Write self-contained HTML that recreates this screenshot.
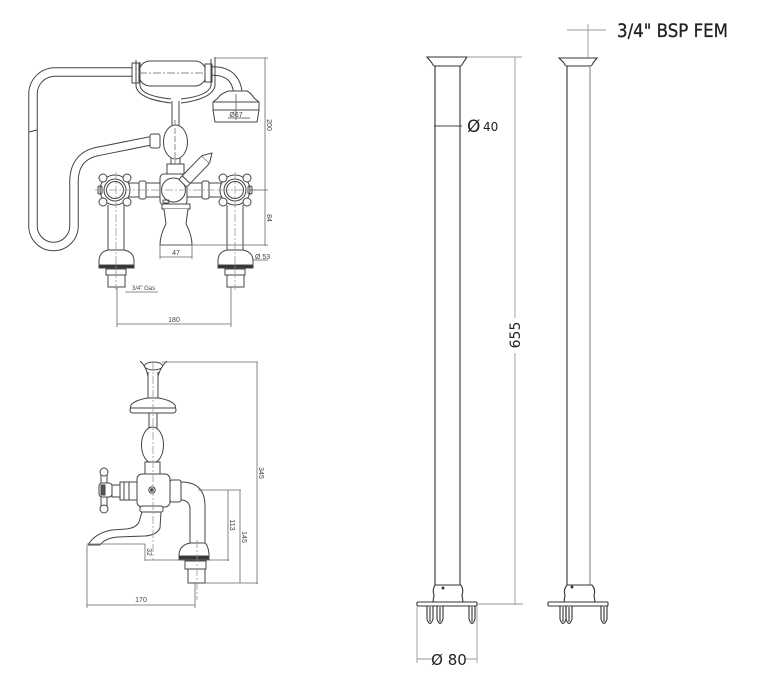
<!DOCTYPE html>
<html><head><meta charset="utf-8"><style>
html,body{margin:0;padding:0;background:#fff;}
svg{display:block;}
text{font-family:"Liberation Sans",sans-serif;}
.dv{font-family:"DejaVu Sans","Liberation Sans",sans-serif;}
</style></head><body>
<svg width="763" height="676" viewBox="0 0 763 676" xmlns="http://www.w3.org/2000/svg">
<rect width="763" height="676" fill="#fff"/>

<!-- ============ TOP LEFT DRAWING ============ -->
<g fill="none" stroke="#444" stroke-width="1">
  <path d="M135,72 H55 A22,22 0 0 0 33,94 V226 A20.5,20.5 0 0 0 74,226 V182 Q74,155 100,151 L150,141" stroke="#444" stroke-width="9.5"/>
  <path d="M135,72 H55 A22,22 0 0 0 33,94 V226 A20.5,20.5 0 0 0 74,226 V182 Q74,155 100,151 L150,141" stroke="#fff" stroke-width="7.5"/>
  <path d="M29,132 L37,130"/>
  <path d="M211,71 Q236,70 238,94" stroke="#444" stroke-width="9.5"/>
  <path d="M211,71 Q236,70 238,94" stroke="#fff" stroke-width="7.5"/>

  <rect x="132" y="63" width="7" height="20" fill="#fff"/>
  <rect x="139" y="61" width="67" height="25" rx="11" fill="#fff"/>
  <line x1="139" y1="73" x2="206" y2="73" stroke="#888" stroke-dasharray="8,2,2,2"/>
  <rect x="205" y="64" width="7" height="18" fill="#fff"/>
  <path d="M136,60 V86 Q138,99 171,103"/>
  <path d="M140,62 V86 Q142,96 171,99"/>
  <path d="M215,57 V86 Q212,99 181,103"/>
  <path d="M211,59 V86 Q208,96 181,99"/>
  <path d="M172,101 V126 M179,101 V126"/>
  <ellipse cx="175.5" cy="142" rx="12" ry="17" fill="#fff"/>
  <line x1="175" y1="120" x2="175" y2="165" stroke="#888" stroke-dasharray="6,2"/>
  <rect x="150" y="134" width="10" height="14" rx="2" fill="#fff"/>
  <path d="M171,158 V165 M180,158 V165"/>
  <rect x="167" y="164" width="17" height="10" fill="#fff"/>

  <path d="M229,91 H247 Q251,93 254,98 L259,102 V110 L257,122 H215 L213,110 V102 L218,98 Q221,93 229,91 Z" fill="#fff"/>
  <path d="M213,102 H259 M213,110 H259"/>
  <line x1="236" y1="94" x2="236" y2="120" stroke="#777"/>
  <line x1="228" y1="118" x2="250" y2="118" stroke="#777"/>

  <rect x="128" y="183" width="33" height="14" fill="#fff"/>
  <rect x="139" y="181" width="7" height="18" rx="2" fill="#fff"/>
  <rect x="186" y="183" width="36" height="14" fill="#fff"/>
  <rect x="202" y="181" width="7" height="18" rx="2" fill="#fff"/>

  <rect x="160" y="174" width="27" height="31" rx="4" fill="#fff"/>
  <circle cx="173.5" cy="190" r="12"/>
  <rect x="163" y="200" width="6" height="3" rx="1"/>
  <g transform="rotate(-46 182 184)">
    <rect x="183" y="178.5" width="33" height="11" rx="2" fill="#fff"/>
    <path d="M216,178.5 L225,184 L216,189.5" fill="#fff"/>
    <path d="M188,178.5 V189.5"/>
  </g>
  <rect x="162" y="204" width="28" height="5" fill="#fff"/>
  <path d="M164,209 L166,224 Q160,235 160,245 H192 Q192,235 186,224 L188,209" fill="#fff"/>

  <g>
    <circle cx="115" cy="190" r="15" fill="#fff"/>
    <circle cx="115" cy="190" r="11"/>
    <circle cx="115" cy="190" r="8.5"/>
    <circle cx="103" cy="178" r="4" fill="#fff"/>
    <circle cx="127" cy="178" r="4" fill="#fff"/>
    <circle cx="103" cy="202" r="4" fill="#fff"/>
    <circle cx="127" cy="202" r="4" fill="#fff"/>
  </g>
  <rect x="98" y="186" width="4" height="8" rx="1.5"/>
  <g transform="translate(120 0)">
    <circle cx="115" cy="190" r="15" fill="#fff"/>
    <circle cx="115" cy="190" r="11"/>
    <circle cx="115" cy="190" r="8.5"/>
    <circle cx="103" cy="178" r="4" fill="#fff"/>
    <circle cx="127" cy="178" r="4" fill="#fff"/>
    <circle cx="103" cy="202" r="4" fill="#fff"/>
    <circle cx="127" cy="202" r="4" fill="#fff"/>
  </g>
  <rect x="248" y="186" width="4" height="8" rx="1.5"/>

  <path d="M108,205 V250 M124,205 V250"/>
  <path d="M108,250 Q99,252 99,261 V268 H134 V261 Q134,252 124,250 Z" fill="#fff"/>
  <rect x="99" y="265" width="35" height="3" fill="#333"/>
  <rect x="106" y="269" width="20" height="6" fill="#fff"/>
  <rect x="108" y="275" width="17" height="12" fill="#fff"/>
  <path d="M227,205 V250 M243,205 V250"/>
  <path d="M227,250 Q218,252 218,261 V268 H253 V261 Q253,252 243,250 Z" fill="#fff"/>
  <rect x="218" y="265" width="35" height="3" fill="#333"/>
  <rect x="225" y="269" width="20" height="6" fill="#fff"/>
  <rect x="227" y="275" width="17" height="12" fill="#fff"/>
</g>
<g stroke="#999" stroke-width="0.8" fill="none" stroke-dasharray="8,2,2,2">
  <line x1="95" y1="190" x2="258" y2="190"/>
  <line x1="116" y1="172" x2="116" y2="290"/>
  <line x1="235" y1="172" x2="235" y2="290"/>
</g>
<g stroke="#666" stroke-width="0.8" fill="none">
  <path d="M215,58 H268 M265,58 V246 M250,190 H268 M160,245 H268"/>
  <path d="M160,245 V259 M192,245 V259 M160,257 H192"/>
  <path d="M253,260 H268"/>
  <path d="M125,292 H158"/>
  <path d="M117,287 V327 M231,287 V327 M117,324 H231"/>
</g>
<g fill="#444" font-size="7">
  <text x="236" y="117" text-anchor="middle">Ø67</text>
  <text x="176" y="255" text-anchor="middle">47</text>
  <text x="255" y="259">Ø 53</text>
  <text x="132" y="290" font-size="6">3/4" Gas</text>
  <text x="174" y="322" text-anchor="middle">180</text>
  <text transform="translate(267 125) rotate(90)" text-anchor="middle">200</text>
  <text transform="translate(267 218) rotate(90)" text-anchor="middle">84</text>
</g>

<!-- ============ BOTTOM LEFT DRAWING ============ -->
<g fill="none" stroke="#444" stroke-width="1">
  <path d="M140,361 Q146,366 148,376 M167,361 Q161,366 158,376"/>
  <ellipse cx="153.5" cy="366" rx="9" ry="4" fill="#fff"/>
  <path d="M148,372 V398 M158,372 V398"/>
  <path d="M148,398 Q135,400 131,405 L130,410 Q130,413 133,413 H173 Q176,413 176,410 L175,405 Q171,400 158,398 Z" fill="#fff"/>
  <path d="M130,408 H176"/>
  <path d="M149,413 V428 M157,413 V428"/>
  <ellipse cx="152.5" cy="445" rx="11" ry="18" fill="#fff"/>
  <rect x="145" y="462" width="15" height="12" fill="#fff"/>
  <rect x="137" y="474" width="33" height="33" rx="5" fill="#fff"/>
  <circle cx="152" cy="490" r="3.2"/>
  <circle cx="152" cy="490" r="1.4" fill="#444"/>
  <rect x="120" y="482" width="17" height="18" fill="#fff"/>
  <path d="M124,482 V500 M129,482 V500"/>
  <rect x="112" y="485" width="8" height="12" fill="#fff"/>
  <rect x="101" y="475" width="6" height="31" fill="#fff"/>
  <rect x="99" y="483" width="13" height="14" rx="3" fill="#fff"/>
  <rect x="101" y="485" width="4" height="10" fill="#555"/>
  <circle cx="104" cy="472" r="4" fill="#fff"/>
  <circle cx="104" cy="509" r="4" fill="#fff"/>
  <rect x="170" y="480" width="11" height="22" rx="2" fill="#fff"/>
  <path d="M181,482 Q205,482 205,506 V543"/>
  <path d="M181,500 Q190,500 190,510 V543"/>
  <path d="M190,543 Q180,545 179,554 V560 H209 V554 Q208,545 205,543 Z" fill="#fff"/>
  <rect x="179" y="556" width="30" height="3" fill="#333"/>
  <rect x="185" y="561" width="21" height="8" fill="#fff"/>
  <rect x="188" y="569" width="17" height="14" fill="#fff"/>
  <rect x="140" y="506" width="23" height="6" rx="2" fill="#fff"/>
  <path d="M142,512 L139,522 Q136,528 126,529 L112,530 Q95,533 88,545"/>
  <path d="M161,512 L160,528 Q157,535 145,536 L118,537 Q105,538 100,545"/>
  <path d="M88,545 H100"/>
</g>
<g stroke="#999" stroke-width="0.8" fill="none" stroke-dasharray="8,2,2,2">
  <line x1="153" y1="362" x2="153" y2="560"/>
  <line x1="197" y1="540" x2="197" y2="600"/>
</g>
<g stroke="#666" stroke-width="0.8" fill="none">
  <path d="M162,362 H258 M257,362 V584 M205,583 H258"/>
  <path d="M198,490 H241 M240,490 V583"/>
  <path d="M228,490 V561 M145,560 H229"/>
  <path d="M87,544 H145 M145,544 V561"/>
  <path d="M87,545 V608 M195,583 V608 M87,605 H195"/>
</g>
<g fill="#444" font-size="7">
  <text x="141" y="602" text-anchor="middle">170</text>
  <text transform="translate(259 473) rotate(90)" text-anchor="middle">345</text>
  <text transform="translate(242 537) rotate(90)" text-anchor="middle">145</text>
  <text transform="translate(230 525) rotate(90)" text-anchor="middle">113</text>
  <text transform="translate(147 552) rotate(90)" text-anchor="middle">32</text>
</g>

<!-- ============ POLES ============ -->
<g fill="none" stroke="#333" stroke-width="1.1">
  <path d="M427,57 H467 L463,63 Q462,66 460,66 H435 Q433,66 432,63 Z" fill="#fff"/>
  <path d="M435,66 V585 M460,66 V585"/>
  <path d="M435,585 Q432,590 434,595 L433,602 H463 L462,595 Q464,590 461,585 Z" fill="#fff"/>
  <circle cx="443" cy="588" r="0.9" fill="#333"/>
  <rect x="417" y="602" width="60" height="4" rx="1" fill="#fff"/>
  <path d="M427,606 V619 Q430,628 433,619 V606 M430,607 V622"/>
  <path d="M437,606 V619 Q440,628 443,619 V606 M440,607 V622"/>
  <path d="M469,606 V619 Q472,628 475,619 V606 M472,607 V622"/>
  <path d="M559,58 H597 L593,63 Q592,66 590,66 H567 Q565,66 564,63 Z" fill="#fff"/>
  <path d="M567,66 V585"/>
  <path d="M590,66 V585" stroke="#888"/>
  <path d="M567,585 Q563,590 565,595 L564,602 H595 L594,595 Q596,590 592,585 Z" fill="#fff"/>
  <circle cx="572" cy="587" r="0.9" fill="#333"/>
  <rect x="548" y="602" width="60" height="4" rx="1" fill="#fff"/>
  <path d="M560,606 V619 Q563,628 566,619 V606 M563,607 V622"/>
  <path d="M566,606 V619 Q569,628 572,619 V606 M569,607 V622"/>
  <path d="M601,606 V619 Q604,628 607,619 V606 M604,607 V622"/>
</g>
<g stroke="#999" stroke-width="0.9" fill="none">
  <path d="M467,57 H522"/>
  <path d="M515,57 V318 M515,353 V605"/>
  <path d="M477,604 H523"/>
  <path d="M588,24 V57 M567,30 H606"/>
  <path d="M417,607 V663 M477,607 V663 M417,659 H432 M466,659 H477"/>
</g>
<path d="M434,126 H462" stroke="#444" stroke-width="1"/>
<g fill="#222" class="dv">
  <text x="467" y="132" font-size="17" class="dv">Ø</text>
  <text x="483" y="131" font-size="12" class="dv">40</text>
  <text transform="translate(520 335) rotate(-90)" text-anchor="middle" font-size="14" class="dv">655</text>
  <text x="449" y="665" text-anchor="middle" font-size="15" class="dv">Ø 80</text>
  <text x="617" y="37" font-size="19" class="dv" stroke="#222" stroke-width="0.3" textLength="111" lengthAdjust="spacingAndGlyphs">3/4" BSP FEM</text>
</g>
</svg>
</body></html>
